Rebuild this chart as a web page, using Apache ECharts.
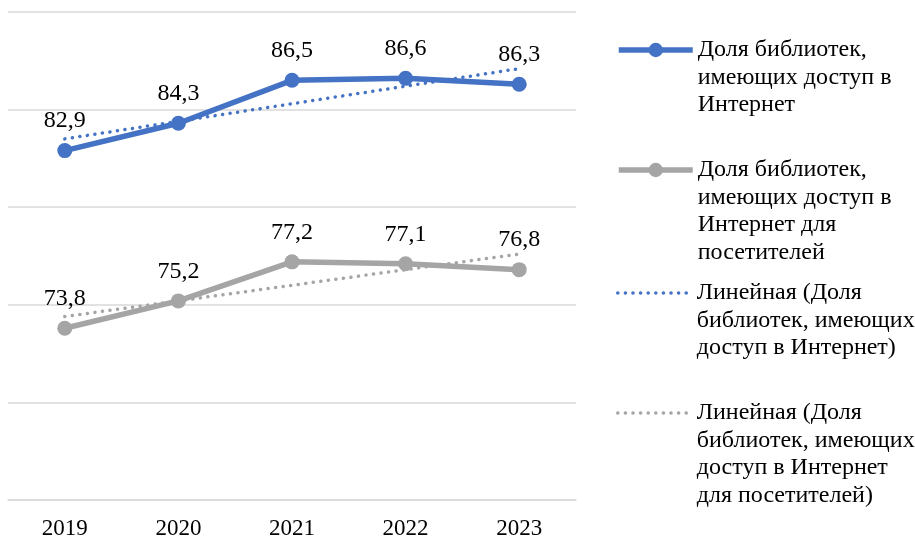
<!DOCTYPE html>
<html><head><meta charset="utf-8">
<script src="https://cdn.jsdelivr.net/npm/echarts@6/dist/echarts.min.js"></script>
<style>html,body{margin:0;padding:0;background:#fff}#c{width:915px;height:540px}</style>
</head><body><div id="c"></div>
<script>
var years = ['2019','2020','2021','2022','2023'];
var internet = [82.9, 84.3, 86.5, 86.6, 86.3];
var visitors = [73.8, 75.2, 77.2, 77.1, 76.8];
var trendInternet = [83.5, 84.4, 85.3, 86.2, 87.1];
var trendVisitors = [74.4, 75.2, 76.0, 76.8, 77.6];
var names = [
  'Доля библиотек,\nимеющих доступ в\nИнтернет',
  'Доля библиотек,\nимеющих доступ в\nИнтернет для\nпосетителей',
  'Линейная (Доля\nбиблиотек, имеющих\nдоступ в Интернет)',
  'Линейная (Доля\nбиблиотек, имеющих\nдоступ в Интернет\nдля посетителей)'
];
var FONT = '"Liberation Serif", "Times New Roman", serif';
var BLUE = '#4472C4', GRAY = '#A5A5A5';
var LH = 27.5;
var legendFirstLine = [50, 170, 293, 413];
var legendColors = [BLUE, GRAY, BLUE, GRAY];

function mkLegend(i) {
  var n = names[i].split('\n').length;
  var isTrend = i >= 2;
  var prefix = '';
  for (var k = 0; k < n - 1; k++) prefix += '\n';
  return {
    left: 616,
    top: legendFirstLine[i] - (2 * n - 1) * LH / 2,
    orient: 'vertical',
    padding: 0,
    itemWidth: 74,
    itemHeight: 18,
    selectedMode: false,
    data: [{
      name: names[i],
      itemStyle: isTrend ? {opacity: 0} : {color: legendColors[i]},
      lineStyle: isTrend ? {width: 3.5, color: legendColors[i], type: [0.1, 7.5], cap: 'round'} : {width: 5.5, color: legendColors[i]}
    }],
    formatter: function (nm) { return prefix + nm; },
    textStyle: {fontFamily: FONT, fontSize: 24, color: '#000', lineHeight: LH}
  };
}

var labelFmt = function (p) { return p.value.toFixed(1).replace('.', ','); };

var chart = echarts.init(document.getElementById('c'), null, {renderer: 'canvas'});
chart.setOption({
  animation: false,
  backgroundColor: '#fff',
  legend: [mkLegend(0), mkLegend(1), mkLegend(2), mkLegend(3)],
  grid: {left: 8, right: 339, top: 12, bottom: 40, containLabel: false},
  xAxis: {
    type: 'category', data: years, boundaryGap: true,
    axisLine: {lineStyle: {color: '#D9D9D9', width: 1.5}},
    axisTick: {show: false},
    axisLabel: {fontFamily: FONT, fontSize: 23, color: '#000', margin: 17}
  },
  yAxis: {
    type: 'value', min: 65, max: 90, interval: 5,
    axisLabel: {show: false}, axisLine: {show: false}, axisTick: {show: false},
    splitLine: {lineStyle: {color: '#D9D9D9', width: 1.5}}
  },
  series: [
    {
      name: names[0], type: 'line', data: internet, z: 3,
      symbol: 'circle', symbolSize: 15,
      lineStyle: {color: BLUE, width: 5.5}, itemStyle: {color: BLUE},
      label: {show: true, position: 'top', distance: 10, fontFamily: FONT, fontSize: 24, color: '#000', formatter: labelFmt}
    },
    {
      name: names[1], type: 'line', data: visitors, z: 3,
      symbol: 'circle', symbolSize: 15,
      lineStyle: {color: GRAY, width: 5.5}, itemStyle: {color: GRAY},
      label: {show: true, position: 'top', distance: 10, fontFamily: FONT, fontSize: 24, color: '#000', formatter: labelFmt}
    },
    {
      name: names[2], type: 'line', data: trendInternet, z: 2,
      symbol: 'none', silent: true,
      lineStyle: {color: BLUE, width: 3.5, type: [0.1, 7.5], cap: 'round'}, itemStyle: {color: BLUE}
    },
    {
      name: names[3], type: 'line', data: trendVisitors, z: 2,
      symbol: 'none', silent: true,
      lineStyle: {color: GRAY, width: 3.5, type: [0.1, 7.5], cap: 'round'}, itemStyle: {color: GRAY}
    }
  ]
});
</script></body></html>
